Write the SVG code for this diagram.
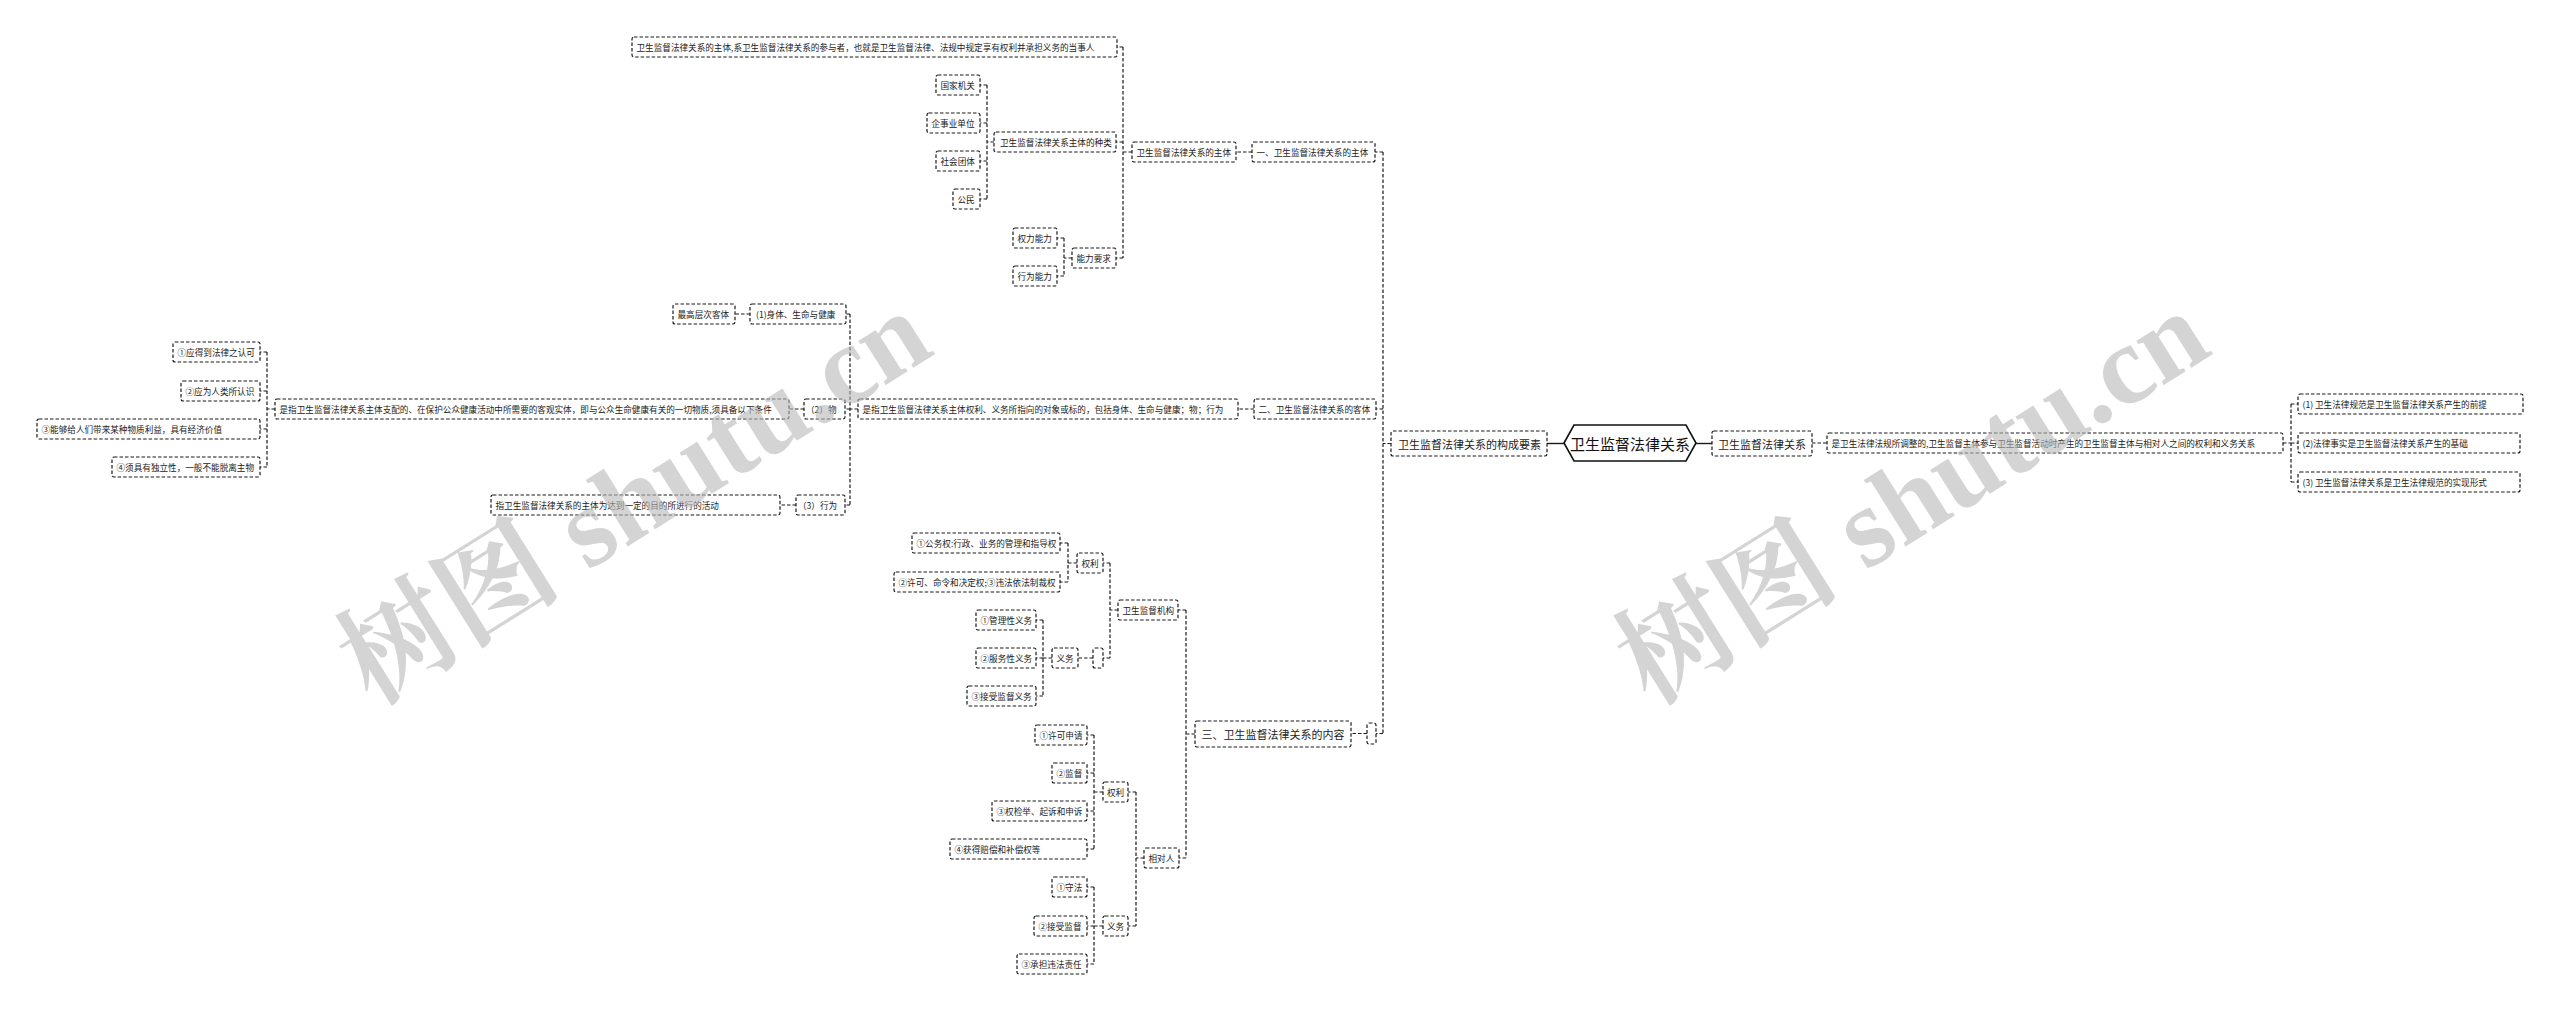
<svg xmlns="http://www.w3.org/2000/svg" width="2560" height="1011" viewBox="0 0 2560 1011">
<style>
.n rect{fill:#fff;stroke:#1a1a1a;stroke-width:1.2;stroke-dasharray:3.5 2}
.n text{font-family:"Noto Sans CJK SC","Noto Sans",sans-serif;font-size:8.6px;fill:#222;dominant-baseline:central}
.n.big text{font-size:11px}
#root polygon{fill:#fff;stroke:#111;stroke-width:1.6}
#root text{font-family:"Noto Sans CJK SC","Noto Sans",sans-serif;font-size:15px;fill:#111;dominant-baseline:central;text-anchor:middle}
#connectors path{fill:none;stroke:#1a1a1a;stroke-width:1.2;stroke-dasharray:3.5 2}
#connectors path.solid{stroke-dasharray:none;stroke-width:1.4}
.wm{font-family:"Liberation Serif","Noto Serif CJK SC","Noto Sans CJK SC",serif;font-size:113px;font-weight:bold;fill:#b8b8b8;opacity:0.6}
</style>
<rect width="2560" height="1011" fill="#fff"/>
<g id="connectors">
<path d="M1383,152 V733.5 M1391,443.5 H1383 M1383,152 H1375 M1383,409 H1376 M1383,733.5 H1376"/>
<path d="M1252,152 H1236"/>
<path d="M1123,47 V258 M1132,152 H1123 M1123,47 H1117 M1123,142 H1116 M1123,258 H1116"/>
<path d="M987,85 V199 M994,142 H987 M987,85 H980 M987,123 H980 M987,161 H980 M987,199 H980"/>
<path d="M1064,238 V276 M1072,258 H1064 M1064,238 H1057 M1064,276 H1057"/>
<path d="M1254,409 H1238"/>
<path d="M850,314 V505 M858,409 H850 M850,314 H846 M850,409 H845 M850,505 H845"/>
<path d="M750,314 H735"/>
<path d="M804,409 H789"/>
<path d="M267,352 V467 M275,409 H267 M267,352 H260 M267,391 H260 M267,429 H260 M267,467 H260"/>
<path d="M796,505 H780"/>
<path d="M1367,733.5 H1351"/>
<path d="M1186,610 V858 M1195,734 H1186 M1186,610 H1178 M1186,858 H1179"/>
<path d="M1110,563 V658 M1118,610 H1110 M1110,563 H1103 M1110,658 H1103"/>
<path d="M1068,543 V582 M1077,563 H1068 M1068,543 H1060 M1068,582 H1060"/>
<path d="M1093,658 H1078"/>
<path d="M1043,620 V696 M1052,658 H1043 M1043,620 H1036 M1043,658 H1036 M1043,696 H1036"/>
<path d="M1136,792 V926 M1144,858 H1136 M1136,792 H1128 M1136,926 H1128"/>
<path d="M1094,735 V849 M1103,792 H1094 M1094,735 H1087 M1094,773 H1087 M1094,811 H1087 M1094,849 H1087"/>
<path d="M1094,887 V964 M1103,926 H1094 M1094,887 H1087 M1094,926 H1087 M1094,964 H1087"/>
<path class="solid" d="M1547,443.5 H1564"/>
<path class="solid" d="M1696,443.5 H1712"/>
<path d="M1812,443 H1827"/>
<path d="M2291,404 V482 M2283,443 H2291 M2291,404 H2298 M2291,443 H2298 M2291,482 H2298"/>
</g>
<g id="root"><polygon points="1564,443 1574,425 1686,425 1696,443 1686,461 1574,461"/><text x="1630" y="443">卫生监督法律关系</text></g>
<g id="n-gc" class="n big"><rect x="1391" y="431" width="156" height="25" rx="2"/><text x="1398" y="443.5">卫生监督法律关系的构成要素</text></g>
<g id="n-1" class="n"><rect x="1252" y="142" width="123" height="20" rx="2"/><text x="1256.5" y="152">一、卫生监督法律关系的主体</text></g>
<g id="n-1a" class="n"><rect x="1132" y="142" width="104" height="20" rx="2"/><text x="1136.5" y="152">卫生监督法律关系的主体</text></g>
<g id="n-1a1" class="n"><rect x="632" y="37" width="485" height="20" rx="2"/><text x="636.5" y="47">卫生监督法律关系的主体,系卫生监督法律关系的参与者，也就是卫生监督法律、法规中规定享有权利并承担义务的当事人</text></g>
<g id="n-1a2" class="n"><rect x="994" y="132" width="122" height="20" rx="2"/><text x="1000" y="142">卫生监督法律关系主体的种类</text></g>
<g id="n-1a2-1" class="n"><rect x="936" y="75" width="44" height="20" rx="2"/><text x="940.5" y="85">国家机关</text></g>
<g id="n-1a2-2" class="n"><rect x="927" y="113" width="53" height="20" rx="2"/><text x="931.5" y="123">企事业单位</text></g>
<g id="n-1a2-3" class="n"><rect x="936" y="151" width="44" height="20" rx="2"/><text x="940.5" y="161">社会团体</text></g>
<g id="n-1a2-4" class="n"><rect x="953" y="189" width="27" height="20" rx="2"/><text x="957.5" y="199">公民</text></g>
<g id="n-1a3" class="n"><rect x="1072" y="248" width="44" height="20" rx="2"/><text x="1076.5" y="258">能力要求</text></g>
<g id="n-1a3-1" class="n"><rect x="1013" y="228" width="44" height="20" rx="2"/><text x="1017.5" y="238">权力能力</text></g>
<g id="n-1a3-2" class="n"><rect x="1013" y="266" width="44" height="20" rx="2"/><text x="1017.5" y="276">行为能力</text></g>
<g id="n-2" class="n"><rect x="1254" y="399" width="122" height="20" rx="2"/><text x="1258.5" y="409">二、卫生监督法律关系的客体</text></g>
<g id="n-2a" class="n"><rect x="858" y="399" width="380" height="20" rx="2"/><text x="862.5" y="409">是指卫生监督法律关系主体权利、义务所指向的对象或标的，包括身体、生命与健康；物；行为</text></g>
<g id="n-2a1" class="n"><rect x="750" y="304" width="96" height="20" rx="2"/><text x="756" y="314">(1)身体、生命与健康</text></g>
<g id="n-2a1a" class="n"><rect x="673" y="304" width="62" height="20" rx="2"/><text x="677.5" y="314">最高层次客体</text></g>
<g id="n-2a2" class="n"><rect x="804" y="399" width="41" height="20" rx="2"/><text x="806" y="409">（2）物</text></g>
<g id="n-2a2a" class="n"><rect x="275" y="399" width="514" height="20" rx="2"/><text x="279.5" y="409">是指卫生监督法律关系主体支配的、在保护公众健康活动中所需要的客观实体，即与公众生命健康有关的一切物质,须具备以下条件</text></g>
<g id="n-2a2a-1" class="n"><rect x="173" y="342" width="87" height="20" rx="2"/><text x="177.5" y="352">①应得到法律之认可</text></g>
<g id="n-2a2a-2" class="n"><rect x="181" y="381" width="79" height="20" rx="2"/><text x="185.5" y="391">②应为人类所认识</text></g>
<g id="n-2a2a-3" class="n"><rect x="37" y="419" width="223" height="20" rx="2"/><text x="41.5" y="429">③能够给人们带来某种物质利益，具有经济价值</text></g>
<g id="n-2a2a-4" class="n"><rect x="112" y="457" width="148" height="20" rx="2"/><text x="116.5" y="467">④须具有独立性，一般不能脱离主物</text></g>
<g id="n-2a3" class="n"><rect x="796" y="495" width="49" height="20" rx="2"/><text x="798" y="505">（3）行为</text></g>
<g id="n-2a3a" class="n"><rect x="491" y="495" width="289" height="20" rx="2"/><text x="495.5" y="505">指卫生监督法律关系的主体为达到一定的目的所进行的活动</text></g>
<g id="n-3e" class="n"><rect x="1367" y="723" width="9" height="21" rx="2"/></g>
<g id="n-3" class="n big"><rect x="1195" y="721" width="156" height="26" rx="2"/><text x="1201.5" y="734">三、卫生监督法律关系的内容</text></g>
<g id="n-3a" class="n"><rect x="1118" y="600" width="60" height="20" rx="2"/><text x="1122.5" y="610">卫生监督机构</text></g>
<g id="n-3a1" class="n"><rect x="1077" y="553" width="26" height="20" rx="2"/><text x="1081.5" y="563">权利</text></g>
<g id="n-3a1-1" class="n"><rect x="912" y="533" width="148" height="20" rx="2"/><text x="916.5" y="543">①公务权:行政、业务的管理和指导权</text></g>
<g id="n-3a1-2" class="n"><rect x="894" y="572" width="166" height="20" rx="2"/><text x="898.5" y="582">②许可、命令和决定权;③违法依法制裁权</text></g>
<g id="n-3a2" class="n"><rect x="1093" y="648" width="10" height="20" rx="2"/></g>
<g id="n-3a2a" class="n"><rect x="1052" y="648" width="26" height="20" rx="2"/><text x="1056.5" y="658">义务</text></g>
<g id="n-3a2a-1" class="n"><rect x="976" y="610" width="60" height="20" rx="2"/><text x="980.5" y="620">①管理性义务</text></g>
<g id="n-3a2a-2" class="n"><rect x="976" y="648" width="60" height="20" rx="2"/><text x="980.5" y="658">②服务性义务</text></g>
<g id="n-3a2a-3" class="n"><rect x="967" y="686" width="69" height="20" rx="2"/><text x="971.5" y="696">③接受监督义务</text></g>
<g id="n-3b" class="n"><rect x="1144" y="848" width="35" height="20" rx="2"/><text x="1148.5" y="858">相对人</text></g>
<g id="n-3b1" class="n"><rect x="1103" y="782" width="25" height="20" rx="2"/><text x="1107" y="792">权利</text></g>
<g id="n-3b1-1" class="n"><rect x="1035" y="725" width="52" height="20" rx="2"/><text x="1039.5" y="735">①许可申请</text></g>
<g id="n-3b1-2" class="n"><rect x="1052" y="763" width="35" height="20" rx="2"/><text x="1056.5" y="773">②监督</text></g>
<g id="n-3b1-3" class="n"><rect x="992" y="801" width="95" height="20" rx="2"/><text x="996.5" y="811">③权检举、起诉和申诉</text></g>
<g id="n-3b1-4" class="n"><rect x="950" y="839" width="137" height="20" rx="2"/><text x="954.5" y="849">④获得赔偿和补偿权等</text></g>
<g id="n-3b2" class="n"><rect x="1103" y="916" width="25" height="20" rx="2"/><text x="1107" y="926">义务</text></g>
<g id="n-3b2-1" class="n"><rect x="1052" y="877" width="35" height="20" rx="2"/><text x="1056.5" y="887">①守法</text></g>
<g id="n-3b2-2" class="n"><rect x="1034" y="916" width="53" height="20" rx="2"/><text x="1038.5" y="926">②接受监督</text></g>
<g id="n-3b2-3" class="n"><rect x="1017" y="954" width="70" height="20" rx="2"/><text x="1021.5" y="964">③承担违法责任</text></g>
<g id="n-r1" class="n big"><rect x="1712" y="431" width="100" height="25" rx="2"/><text x="1718" y="443.5">卫生监督法律关系</text></g>
<g id="n-r1a" class="n"><rect x="1827" y="433" width="456" height="20" rx="2"/><text x="1831.5" y="443">是卫生法律法规所调整的,卫生监督主体参与卫生监督活动时产生的卫生监督主体与相对人之间的权利和义务关系</text></g>
<g id="n-r1a-1" class="n"><rect x="2298" y="394" width="225" height="20" rx="2"/><text x="2302.5" y="404">(1) 卫生法律规范是卫生监督法律关系产生的前提</text></g>
<g id="n-r1a-2" class="n"><rect x="2298" y="433" width="222" height="20" rx="2"/><text x="2302.5" y="443">(2)法律事实是卫生监督法律关系产生的基础</text></g>
<g id="n-r1a-3" class="n"><rect x="2298" y="472" width="222" height="20" rx="2"/><text x="2302.5" y="482">(3) 卫生监督法律关系是卫生法律规范的实现形式</text></g>
<text class="wm" transform="translate(372,706) rotate(-32)">树图 shutu.cn</text>
<text class="wm" transform="translate(1650,706) rotate(-32)">树图 shutu.cn</text>
</svg>
